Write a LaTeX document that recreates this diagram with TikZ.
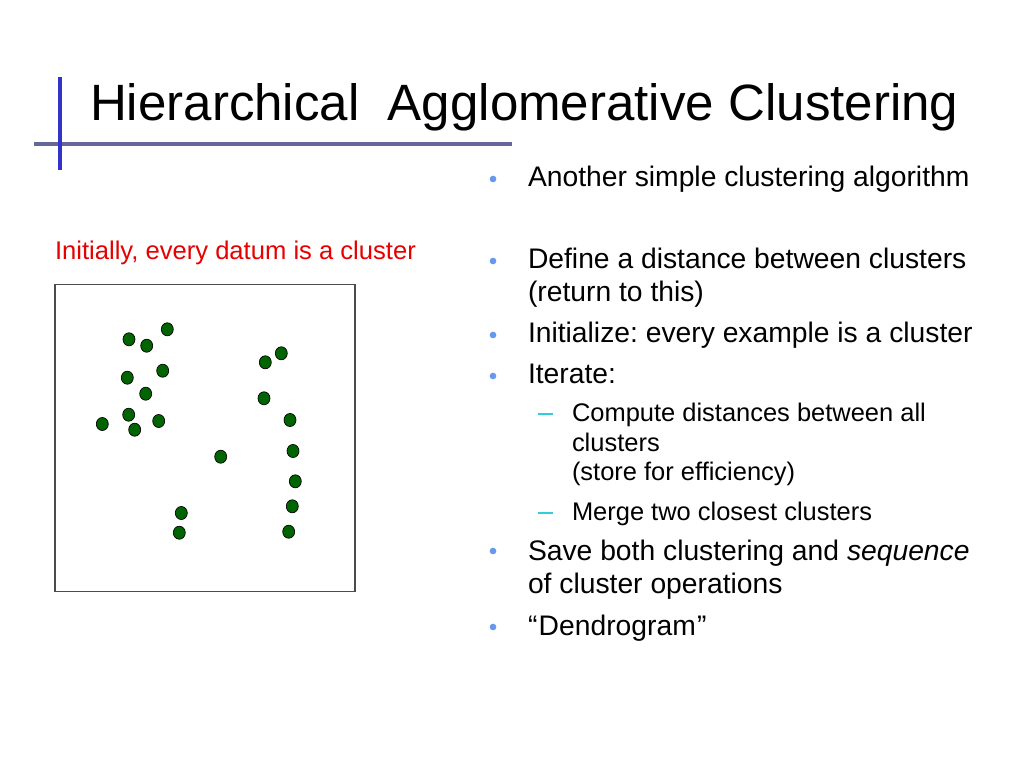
\documentclass[tikz,border=0pt]{standalone}
\usepackage{fontspec}
\setmainfont{Liberation Sans}
\usetikzlibrary{shapes.geometric}
\frenchspacing
\definecolor{titlebar}{RGB}{51,51,204}
\definecolor{ruleline}{RGB}{102,102,153}
\definecolor{bulletblue}{RGB}{102,153,238}
\definecolor{dashcyan}{RGB}{51,204,221}
\definecolor{dotgreen}{RGB}{0,100,0}
\definecolor{captionred}{RGB}{230,0,0}
\tikzset{
  datum/.style={ellipse, draw=black, line width=0.5pt, fill=dotgreen, minimum width=9pt, minimum height=9.8pt, inner sep=0pt},
  txt/.style={anchor=base west, inner sep=0pt, outer sep=0pt},
  mainitem/.style={txt, font=\fontsize{21.2}{25}\selectfont},
  subitem/.style={txt, font=\fontsize{19.1}{22}\selectfont},
  bul/.style={circle, fill=bulletblue, inner sep=0pt, minimum size=5pt},
  dsh/.style={draw=dashcyan, line width=1.5pt}
}
\begin{document}
\begin{tikzpicture}[x=0.75pt,y=-0.75pt]
\useasboundingbox[fill=white] (0,0) rectangle (1024,768);
% title decorations
\coordinate (vt) at (60,77);
\coordinate (vb) at (60,170);
\coordinate (hl) at (34,144);
\coordinate (hr) at (512,144);
\draw[ruleline, line width=3pt] (hl) -- (hr);
\draw[titlebar, line width=3pt] (vt) -- (vb);
\node[txt, font=\fontsize{38.3}{45}\selectfont] (title) at (90,120) {Hierarchical\ \ Agglomerative Clustering};
% caption
\node[txt, text=captionred, font=\fontsize{19.2}{23}\selectfont] (caption) at (55,259) {Initially, every datum is a cluster};
% box
\node[draw=black!70, line width=0.9pt, minimum width=225pt, minimum height=230.25pt, inner sep=0pt, anchor=north west] (box) at (54.3,284) {};
% data points
\node[datum] (p1) at (167.3,329.3) {};
\node[datum] (p2) at (129,339.3) {};
\node[datum] (p3) at (146.7,345.7) {};
\node[datum] (p4) at (162.7,370.7) {};
\node[datum] (p5) at (127.3,377.7) {};
\node[datum] (p6) at (145.7,393.7) {};
\node[datum] (p7) at (128.7,414.7) {};
\node[datum] (p8) at (158.7,421) {};
\node[datum] (p9) at (102.3,424) {};
\node[datum] (p10) at (134.7,429.7) {};
\node[datum] (p11) at (220.7,456.7) {};
\node[datum] (p12) at (181.3,513) {};
\node[datum] (p13) at (179.3,532.7) {};
\node[datum] (p14) at (281.3,353.3) {};
\node[datum] (p15) at (265.3,362.3) {};
\node[datum] (p16) at (264,398.3) {};
\node[datum] (p17) at (290,420) {};
\node[datum] (p18) at (293,451) {};
\node[datum] (p19) at (295.3,481.3) {};
\node[datum] (p20) at (292.3,506.3) {};
\node[datum] (p21) at (288.7,531.7) {};
% bullets
\node[bul] (b1) at (493,179) {};
\node[mainitem] (t1) at (528,186) {Another simple clustering algorithm};
\node[bul] (b2) at (493,261) {};
\node[mainitem] (t2) at (528,268) {Define a distance between clusters};
\node[mainitem] (t2b) at (528,301) {(return to this)};
\node[bul] (b3) at (493,335) {};
\node[mainitem] (t3) at (528,342) {Initialize: every example is a cluster};
\node[bul] (b4) at (493,376) {};
\node[mainitem] (t4) at (528,383.3) {Iterate:};
\coordinate (d1a) at (538,413.5);
\coordinate (d1b) at (553,413.5);
\draw[dsh] (d1a) -- (d1b);
\node[subitem] (s1) at (572,421.7) {Compute distances between all};
\node[subitem] (s1b) at (572,451.7) {clusters};
\node[subitem] (s1c) at (572,480.7) {(store for efficiency)};
\coordinate (d2a) at (538,513);
\coordinate (d2b) at (553,513);
\draw[dsh] (d2a) -- (d2b);
\node[subitem] (s2) at (572,520) {Merge two closest clusters};
\node[bul] (b5) at (493,551) {};
\node[mainitem] (t5) at (528,560) {Save both clustering and \textit{sequence}};
\node[mainitem] (t5b) at (528,593.3) {of cluster operations};
\node[bul] (b6) at (493,627) {};
\node[mainitem] (t6) at (528,635) {“\kern1pt Dendrogram\kern1pt”};
\end{tikzpicture}
\end{document}
